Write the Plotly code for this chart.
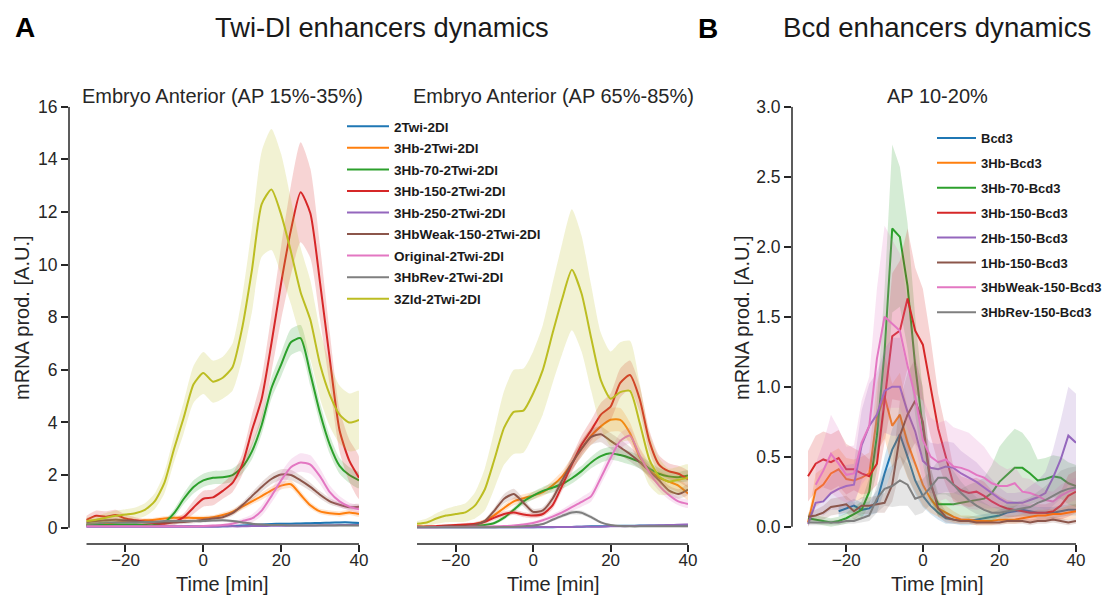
import plotly.graph_objects as go

FONT = "Liberation Sans, Arial, sans-serif"
INK = "#262626"

# ---------------- Panel A data (time grid, minutes) ----------------
t_A = [-30, -27.5, -25, -22.5, -20, -17.5, -15, -12.5, -10, -7.5, -5, -2.5, 0,
       2.5, 5, 7.5, 10, 12.5, 15, 17.5, 20, 22.5, 25, 27.5, 30, 32.5, 35, 37.5, 40]

names_A = ["2Twi-2Dl", "3Hb-2Twi-2Dl", "3Hb-70-2Twi-2Dl", "3Hb-150-2Twi-2Dl",
           "3Hb-250-2Twi-2Dl", "3HbWeak-150-2Twi-2Dl", "Original-2Twi-2Dl",
           "3HbRev-2Twi-2Dl", "3Zld-2Twi-2Dl"]

# Embryo Anterior (AP 15%-35%) : means
a1_2twi = [0.05, 0.05, 0.05, 0.05, 0.05, 0.05, 0.05, 0.05, 0.05, 0.05, 0.05, 0.05, 0.05, 0.05, 0.05,
           0.06, 0.08, 0.1, 0.12, 0.14, 0.15, 0.15, 0.16, 0.17, 0.18, 0.19, 0.2, 0.2, 0.18]
a1_3hb = [0.1, 0.12, 0.15, 0.2, 0.22, 0.25, 0.28, 0.3, 0.35, 0.38, 0.38, 0.37, 0.37, 0.4, 0.48,
          0.6, 0.8, 1.0, 1.2, 1.42, 1.6, 1.65, 1.25, 0.85, 0.62, 0.55, 0.52, 0.58, 0.52]
a1_3hb70 = [0.1, 0.1, 0.1, 0.12, 0.12, 0.12, 0.1, 0.1, 0.2, 0.55, 1.1, 1.55, 1.8, 1.9, 1.92,
            2.0, 2.3, 2.9, 3.9, 5.3, 6.2, 7.05, 7.2, 5.85, 4.35, 3.15, 2.35, 2.0, 1.8]
a1_3hb150 = [0.3, 0.45, 0.42, 0.48, 0.35, 0.28, 0.22, 0.18, 0.15, 0.22, 0.4, 0.77, 1.1, 1.15, 1.4,
             1.7, 2.4, 3.7, 4.9, 7.0, 9.3, 11.3, 12.75, 11.95, 9.3, 6.4, 3.7, 2.55, 1.9]
a1_3hb250 = [0.04, 0.04, 0.04, 0.04, 0.04, 0.04, 0.04, 0.04, 0.04, 0.04, 0.04, 0.04, 0.04, 0.04, 0.05,
             0.05, 0.05, 0.06, 0.06, 0.07, 0.07, 0.08, 0.08, 0.08, 0.09, 0.09, 0.1, 0.1, 0.1]
a1_weak = [0.2, 0.25, 0.28, 0.3, 0.28, 0.25, 0.2, 0.2, 0.2, 0.2, 0.22, 0.25, 0.3, 0.35, 0.4,
           0.55, 0.85, 1.2, 1.55, 1.85, 2.02, 2.0, 1.8, 1.55, 1.25, 1.0, 0.87, 0.78, 0.8]
a1_orig = [0.05, 0.05, 0.05, 0.05, 0.05, 0.05, 0.05, 0.05, 0.05, 0.05, 0.05, 0.05, 0.06, 0.08, 0.1,
           0.15, 0.25, 0.35, 0.65, 1.2, 1.8, 2.3, 2.48, 2.4, 1.95, 1.35, 1.0, 0.8, 0.7]
a1_rev = [0.15, 0.17, 0.2, 0.2, 0.2, 0.2, 0.22, 0.22, 0.25, 0.25, 0.25, 0.25, 0.25, 0.27, 0.28,
          0.25, 0.2, 0.15, 0.12, 0.1, 0.1, 0.08, 0.08, 0.08, 0.08, 0.08, 0.08, 0.08, 0.08]
a1_zld = [0.25, 0.3, 0.38, 0.45, 0.5, 0.55, 0.68, 1.0, 1.7, 3.0, 4.2, 5.45, 5.88, 5.55, 5.7,
          6.1, 7.6, 9.8, 12.3, 12.85, 11.9, 10.5, 8.95, 7.9, 6.2, 5.05, 4.3, 4.0, 4.1]

# Embryo Anterior (AP 15%-35%) : band half-widths
a1_2twi_e = [0.03, 0.03, 0.03, 0.03, 0.03, 0.03, 0.03, 0.03, 0.03, 0.03, 0.03, 0.03, 0.03, 0.03, 0.03,
             0.03, 0.03, 0.03, 0.03, 0.03, 0.04, 0.04, 0.04, 0.04, 0.04, 0.04, 0.04, 0.04, 0.04]
a1_3hb_e = [0.08, 0.08, 0.08, 0.08, 0.08, 0.08, 0.08, 0.08, 0.08, 0.08, 0.08, 0.08, 0.08, 0.08, 0.1,
            0.1, 0.12, 0.12, 0.14, 0.15, 0.15, 0.15, 0.14, 0.12, 0.1, 0.1, 0.1, 0.1, 0.1]
a1_3hb70_e = [0.05, 0.05, 0.05, 0.05, 0.05, 0.05, 0.05, 0.05, 0.08, 0.15, 0.2, 0.25, 0.25, 0.25, 0.25,
              0.25, 0.25, 0.3, 0.35, 0.4, 0.45, 0.5, 0.5, 0.45, 0.4, 0.35, 0.3, 0.3, 0.3]
a1_3hb150_e = [0.15, 0.2, 0.2, 0.2, 0.15, 0.12, 0.1, 0.1, 0.1, 0.12, 0.15, 0.25, 0.3, 0.3, 0.3,
               0.35, 0.4, 0.6, 0.8, 1.1, 1.4, 1.7, 1.9, 1.7, 1.4, 1.0, 0.8, 0.8, 0.8]
a1_3hb250_e = [0.02, 0.02, 0.02, 0.02, 0.02, 0.02, 0.02, 0.02, 0.02, 0.02, 0.02, 0.02, 0.02, 0.02, 0.02,
               0.02, 0.02, 0.02, 0.02, 0.02, 0.02, 0.02, 0.02, 0.02, 0.02, 0.02, 0.02, 0.02, 0.02]
a1_weak_e = [0.08, 0.08, 0.08, 0.08, 0.08, 0.08, 0.08, 0.08, 0.08, 0.08, 0.08, 0.08, 0.08, 0.08, 0.08,
             0.1, 0.12, 0.15, 0.18, 0.2, 0.2, 0.2, 0.18, 0.16, 0.14, 0.12, 0.1, 0.1, 0.1]
a1_orig_e = [0.03, 0.03, 0.03, 0.03, 0.03, 0.03, 0.03, 0.03, 0.03, 0.03, 0.03, 0.03, 0.03, 0.04, 0.05,
             0.08, 0.1, 0.15, 0.2, 0.25, 0.3, 0.3, 0.35, 0.35, 0.3, 0.25, 0.2, 0.15, 0.15]
a1_rev_e = [0.05, 0.05, 0.05, 0.05, 0.05, 0.05, 0.05, 0.05, 0.05, 0.05, 0.05, 0.05, 0.05, 0.05, 0.05,
            0.05, 0.05, 0.05, 0.04, 0.04, 0.04, 0.03, 0.03, 0.03, 0.03, 0.03, 0.03, 0.03, 0.03]
a1_zld_e = [0.15, 0.15, 0.18, 0.2, 0.2, 0.22, 0.25, 0.3, 0.4, 0.5, 0.6, 0.7, 0.8, 0.8, 0.8,
            0.9, 1.2, 1.6, 2.0, 2.3, 2.3, 2.0, 1.7, 1.5, 1.3, 1.2, 1.1, 1.1, 1.1]

# Embryo Anterior (AP 65%-85%) : means
a2_2twi = [0.02, 0.02, 0.02, 0.02, 0.02, 0.02, 0.02, 0.02, 0.02, 0.02, 0.02, 0.02, 0.02, 0.02, 0.02,
           0.03, 0.03, 0.04, 0.05, 0.05, 0.06, 0.07, 0.07, 0.08, 0.08, 0.08, 0.09, 0.1, 0.1]
a2_3hb = [0.03, 0.03, 0.03, 0.04, 0.05, 0.07, 0.13, 0.25, 0.48, 0.75, 1.0, 1.12, 1.22, 1.35, 1.6,
          1.95, 2.45, 3.0, 3.5, 3.85, 4.1, 4.1, 3.6, 2.7, 2.2, 1.9, 1.75, 1.6, 1.3]
a2_3hb70 = [0.03, 0.03, 0.03, 0.03, 0.04, 0.05, 0.06, 0.1, 0.18, 0.38, 0.68, 1.0, 1.22, 1.4, 1.52,
            1.66, 1.88, 2.15, 2.48, 2.72, 2.83, 2.76, 2.65, 2.5, 2.25, 2.05, 1.95, 1.92, 1.98]
a2_3hb150 = [0.05, 0.05, 0.06, 0.08, 0.1, 0.12, 0.15, 0.22, 0.38, 0.52, 0.58, 0.5, 0.46, 0.52, 0.85,
             1.6, 2.4, 3.15, 3.7, 4.3, 4.6, 5.5, 5.8, 4.9, 3.3, 2.4, 2.15, 2.05, 1.85]
a2_3hb250 = [0.02, 0.02, 0.02, 0.02, 0.02, 0.02, 0.02, 0.02, 0.02, 0.02, 0.02, 0.02, 0.02, 0.03, 0.03,
             0.03, 0.03, 0.04, 0.04, 0.04, 0.05, 0.05, 0.06, 0.07, 0.08, 0.09, 0.1, 0.11, 0.12]
a2_weak = [0.03, 0.03, 0.03, 0.05, 0.05, 0.06, 0.1, 0.25, 0.65, 1.1, 1.28, 0.95, 0.6, 0.66, 1.1,
           1.8, 2.45, 3.0, 3.45, 3.55, 3.3, 3.05, 2.8, 2.5, 2.15, 1.8, 1.42, 1.28, 1.45]
a2_orig = [0.02, 0.02, 0.02, 0.03, 0.03, 0.03, 0.04, 0.04, 0.05, 0.06, 0.08, 0.12, 0.18, 0.28, 0.42,
           0.58, 0.78, 0.98, 1.2, 1.9, 2.65, 3.3, 3.5, 2.75, 2.1, 1.6, 1.25, 1.0, 0.9]
a2_rev = [0.02, 0.02, 0.02, 0.02, 0.02, 0.02, 0.02, 0.02, 0.02, 0.03, 0.03, 0.05, 0.08, 0.14, 0.3,
          0.45, 0.58, 0.57, 0.4, 0.2, 0.1, 0.06, 0.05, 0.05, 0.05, 0.05, 0.05, 0.05, 0.05]
a2_zld = [0.15, 0.2, 0.35, 0.46, 0.52, 0.58, 0.85, 1.45, 2.6, 3.8, 4.4, 4.45, 5.1, 6.0, 7.38,
          8.7, 9.8, 8.9, 7.2, 5.6, 4.9, 5.15, 5.2, 4.0, 2.6, 1.95, 1.75, 1.82, 1.9]

# Embryo Anterior (AP 65%-85%) : band half-widths
a2_2twi_e = [0.02, 0.02, 0.02, 0.02, 0.02, 0.02, 0.02, 0.02, 0.02, 0.02, 0.02, 0.02, 0.02, 0.02, 0.02,
             0.02, 0.02, 0.02, 0.02, 0.02, 0.02, 0.02, 0.02, 0.02, 0.02, 0.02, 0.03, 0.03, 0.03]
a2_3hb_e = [0.02, 0.02, 0.02, 0.02, 0.03, 0.04, 0.06, 0.08, 0.1, 0.12, 0.15, 0.15, 0.15, 0.15, 0.18,
            0.2, 0.25, 0.3, 0.35, 0.4, 0.45, 0.45, 0.4, 0.35, 0.3, 0.25, 0.25, 0.25, 0.25]
a2_3hb70_e = [0.02, 0.02, 0.02, 0.02, 0.02, 0.03, 0.03, 0.05, 0.06, 0.08, 0.1, 0.12, 0.15, 0.15, 0.18,
              0.18, 0.2, 0.2, 0.22, 0.25, 0.25, 0.25, 0.25, 0.25, 0.25, 0.22, 0.2, 0.2, 0.2]
a2_3hb150_e = [0.03, 0.03, 0.03, 0.04, 0.05, 0.06, 0.07, 0.08, 0.1, 0.1, 0.1, 0.1, 0.1, 0.1, 0.15,
               0.2, 0.3, 0.35, 0.4, 0.45, 0.5, 0.55, 0.55, 0.5, 0.4, 0.35, 0.3, 0.3, 0.3]
a2_3hb250_e = [0.02, 0.02, 0.02, 0.02, 0.02, 0.02, 0.02, 0.02, 0.02, 0.02, 0.02, 0.02, 0.02, 0.02, 0.02,
               0.02, 0.02, 0.02, 0.02, 0.02, 0.02, 0.02, 0.02, 0.03, 0.03, 0.03, 0.03, 0.04, 0.04]
a2_weak_e = [0.02, 0.02, 0.02, 0.03, 0.03, 0.04, 0.05, 0.08, 0.12, 0.18, 0.2, 0.15, 0.12, 0.12, 0.15,
             0.2, 0.25, 0.3, 0.3, 0.3, 0.3, 0.3, 0.28, 0.25, 0.22, 0.2, 0.18, 0.18, 0.2]
a2_orig_e = [0.02, 0.02, 0.02, 0.02, 0.02, 0.02, 0.02, 0.02, 0.02, 0.03, 0.04, 0.05, 0.06, 0.08, 0.1,
             0.12, 0.15, 0.18, 0.2, 0.25, 0.3, 0.3, 0.3, 0.28, 0.25, 0.2, 0.18, 0.15, 0.15]
a2_rev_e = [0.02, 0.02, 0.02, 0.02, 0.02, 0.02, 0.02, 0.02, 0.02, 0.02, 0.02, 0.03, 0.04, 0.05, 0.06,
            0.07, 0.08, 0.08, 0.07, 0.05, 0.04, 0.03, 0.03, 0.03, 0.03, 0.03, 0.03, 0.03, 0.03]
a2_zld_e = [0.1, 0.15, 0.2, 0.25, 0.3, 0.35, 0.5, 0.8, 1.1, 1.4, 1.6, 1.6, 1.6, 1.7, 1.9,
            2.1, 2.3, 2.2, 2.0, 1.8, 1.8, 1.9, 1.9, 1.5, 1.0, 0.7, 0.5, 0.5, 0.5]

# ---------------- Panel B data ----------------
t_B = [-30, -28, -26, -24, -22, -20, -18, -16, -14, -12, -10, -8, -6, -4, -2, 0, 2, 4,
       6, 8, 10, 12, 14, 16, 18, 20, 22, 24, 26, 28, 30, 32, 34, 36, 38, 40]

names_B = ["Bcd3", "3Hb-Bcd3", "3Hb-70-Bcd3", "3Hb-150-Bcd3", "2Hb-150-Bcd3",
           "1Hb-150-Bcd3", "3HbWeak-150-Bcd3", "3HbRev-150-Bcd3"]

b_bcd3 = [None, None, None, None, 0.11, 0.13, 0.15, 0.12, 0.13, 0.18, 0.38, 0.55, 0.66, 0.5, 0.33, 0.22,
          0.15, 0.1, 0.06, 0.05, 0.04, 0.04, 0.05, 0.06, 0.07, 0.08, 0.1, 0.11, 0.12, 0.11, 0.1, 0.1,
          0.1, 0.11, 0.12, 0.12]
b_3hb = [0.03, 0.26, 0.3, 0.38, 0.41, 0.34, 0.33, 0.35, 0.38, 0.78, 0.93, 0.72, 0.8, 0.6, 0.45, 0.3,
         0.2, 0.13, 0.1, 0.07, 0.05, 0.05, 0.04, 0.04, 0.04, 0.05, 0.05, 0.05, 0.06, 0.07, 0.08, 0.08,
         0.09, 0.09, 0.1, 0.11]
b_3hb70 = [0.06, 0.05, 0.04, 0.03, 0.04, 0.06, 0.09, 0.12, 0.25, 0.65, 1.25, 2.13, 2.07, 1.72, 1.15, 0.7,
           0.3, 0.16, 0.16, 0.16, 0.17, 0.18, 0.19, 0.2, 0.24, 0.32, 0.37, 0.42, 0.42, 0.38, 0.33, 0.34,
           0.36, 0.35, 0.31, 0.29]
b_3hb150 = [0.36, 0.45, 0.48, 0.46, 0.49, 0.41, 0.41, 0.38, 0.36, 0.45, 0.9, 1.36, 1.4, 1.63, 1.4, 1.3,
            1.0, 0.7, 0.5, 0.3, 0.26, 0.24, 0.25, 0.22, 0.18, 0.15, 0.13, 0.12, 0.11, 0.1, 0.1, 0.1,
            0.11, 0.15, 0.22, 0.25]
b_2hb150 = [0.02, 0.17, 0.18, 0.24, 0.27, 0.29, 0.3, 0.58, 0.72, 0.8, 0.97, 1.0, 1.0, 0.82, 0.68, 0.47,
            0.42, 0.41, 0.43, 0.42, 0.38, 0.35, 0.32, 0.28, 0.24, 0.2, 0.17, 0.17, 0.17, 0.19, 0.21, 0.24,
            0.35, 0.48, 0.65, 0.6]
b_1hb150 = [0.07, 0.08, 0.1, 0.14, 0.15, 0.16, 0.11, 0.15, 0.15, 0.16, 0.17, 0.3, 0.65, 0.8, 0.9, 0.75,
            0.32, 0.13, 0.07, 0.05, 0.04, 0.04, 0.03, 0.03, 0.03, 0.03, 0.04, 0.04, 0.04, 0.03, 0.04, 0.04,
            0.05, 0.04, 0.03, 0.04]
b_weak = [None, 0.3, 0.4, 0.52, 0.45, 0.37, 0.38, 0.6, 0.72, 1.2, 1.5, 1.45, 1.4, 1.15, 0.93, 0.62,
          0.5, 0.46, 0.48, 0.43, 0.42, 0.4, 0.37, 0.35, 0.31, 0.29, 0.29, 0.31, 0.25, 0.24, 0.22, 0.19,
          0.18, 0.22, 0.25, 0.27]
b_rev = [0.03, 0.03, 0.03, 0.03, 0.03, 0.04, 0.04, 0.06, 0.08, 0.2, 0.27, 0.29, 0.33, 0.3, 0.2, 0.22,
         0.28, 0.35, 0.35, 0.3, 0.24, 0.19, 0.15, 0.12, 0.1, 0.1, 0.11, 0.12, 0.13, 0.14, 0.17, 0.19,
         0.22, 0.25, 0.27, 0.28]

b_bcd3_e = [None, None, None, None, 0.04, 0.04, 0.05, 0.05, 0.05, 0.08, 0.12, 0.15, 0.15, 0.14, 0.1, 0.08,
            0.06, 0.05, 0.04, 0.03, 0.03, 0.03, 0.03, 0.03, 0.03, 0.04, 0.04, 0.04, 0.04, 0.04, 0.04, 0.04,
            0.04, 0.04, 0.04, 0.04]
b_3hb_e = [0.03, 0.12, 0.12, 0.15, 0.15, 0.15, 0.15, 0.15, 0.15, 0.25, 0.3, 0.3, 0.3, 0.25, 0.2, 0.15,
           0.1, 0.06, 0.05, 0.04, 0.03, 0.03, 0.03, 0.03, 0.03, 0.03, 0.03, 0.03, 0.03, 0.04, 0.04, 0.04,
           0.04, 0.04, 0.05, 0.05]
b_3hb70_e = [0.03, 0.03, 0.03, 0.03, 0.03, 0.04, 0.05, 0.06, 0.1, 0.25, 0.45, 0.6, 0.5, 0.45, 0.35, 0.25,
             0.12, 0.08, 0.08, 0.08, 0.1, 0.12, 0.13, 0.15, 0.2, 0.25, 0.27, 0.28, 0.25, 0.22, 0.15, 0.15,
             0.15, 0.15, 0.15, 0.15]
b_3hb150_e = [0.18, 0.2, 0.2, 0.2, 0.2, 0.18, 0.15, 0.15, 0.12, 0.15, 0.3, 0.45, 0.5, 0.5, 0.45, 0.4,
              0.35, 0.25, 0.2, 0.12, 0.1, 0.1, 0.1, 0.1, 0.08, 0.07, 0.06, 0.06, 0.06, 0.06, 0.06, 0.06,
              0.07, 0.1, 0.15, 0.15]
b_2hb150_e = [0.02, 0.08, 0.1, 0.12, 0.15, 0.15, 0.15, 0.25, 0.3, 0.3, 0.3, 0.35, 0.35, 0.3, 0.25, 0.2,
              0.18, 0.18, 0.18, 0.18, 0.16, 0.15, 0.14, 0.12, 0.1, 0.08, 0.07, 0.07, 0.08, 0.1, 0.12, 0.15,
              0.2, 0.28, 0.35, 0.35]
b_1hb150_e = [0.03, 0.04, 0.05, 0.06, 0.06, 0.06, 0.06, 0.06, 0.06, 0.06, 0.07, 0.12, 0.25, 0.3, 0.3, 0.25,
              0.12, 0.06, 0.04, 0.03, 0.02, 0.02, 0.02, 0.02, 0.02, 0.02, 0.02, 0.02, 0.02, 0.02, 0.02, 0.02,
              0.02, 0.02, 0.02, 0.02]
b_weak_e = [None, 0.15, 0.2, 0.28, 0.25, 0.2, 0.2, 0.3, 0.35, 0.5, 0.65, 0.6, 0.55, 0.45, 0.35, 0.3,
            0.28, 0.28, 0.28, 0.28, 0.27, 0.27, 0.25, 0.22, 0.18, 0.15, 0.12, 0.12, 0.1, 0.1, 0.08, 0.07,
            0.07, 0.08, 0.08, 0.08]
b_rev_e = [0.02, 0.02, 0.02, 0.02, 0.02, 0.02, 0.02, 0.03, 0.04, 0.1, 0.12, 0.15, 0.18, 0.15, 0.12, 0.12,
           0.12, 0.12, 0.12, 0.1, 0.08, 0.07, 0.06, 0.05, 0.04, 0.04, 0.05, 0.05, 0.06, 0.07, 0.08, 0.1,
           0.12, 0.15, 0.15, 0.15]

# ---------------- styling ----------------
TAB10 = ["#1f77b4", "#ff7f0e", "#2ca02c", "#d62728", "#9467bd",
         "#8c564b", "#e377c2", "#7f7f7f", "#bcbd22"]
colors_B = ["#1f77b4", "#ff7f0e", "#2ca02c", "#d62728", "#9467bd",
            "#8c564b", "#e377c2", "#7f7f7f"]


def rgba(hexc, a):
    h = hexc.lstrip("#")
    return "rgba(%d,%d,%d,%.2f)" % (int(h[0:2], 16), int(h[2:4], 16), int(h[4:6], 16), a)


fig = go.Figure()


def add_series(t, mean, err, color, name, xa, ya, legend, group, showlegend, shape):
    pts = [(ti, m, e) for ti, m, e in zip(t, mean, err) if m is not None]
    ts = [p[0] for p in pts]
    ms = [p[1] for p in pts]
    lo = [max(p[1] - p[2], 0.0) for p in pts]
    hi = [p[1] + p[2] for p in pts]
    fig.add_trace(go.Scatter(
        x=ts + ts[::-1], y=hi + lo[::-1], fill="toself", fillcolor=rgba(color, 0.2),
        mode="lines", line=dict(width=0, shape=shape, smoothing=0.6), hoverinfo="skip",
        showlegend=False, legendgroup=group, legend=legend, xaxis=xa, yaxis=ya))
    fig.add_trace(go.Scatter(
        x=ts, y=ms, mode="lines", name=name,
        line=dict(color=color, width=2, shape=shape, smoothing=0.6),
        showlegend=showlegend, legendgroup=group, legend=legend, xaxis=xa, yaxis=ya))


A1 = [(a1_2twi, a1_2twi_e), (a1_3hb, a1_3hb_e), (a1_3hb70, a1_3hb70_e), (a1_3hb150, a1_3hb150_e),
      (a1_3hb250, a1_3hb250_e), (a1_weak, a1_weak_e), (a1_orig, a1_orig_e), (a1_rev, a1_rev_e),
      (a1_zld, a1_zld_e)]
A2 = [(a2_2twi, a2_2twi_e), (a2_3hb, a2_3hb_e), (a2_3hb70, a2_3hb70_e), (a2_3hb150, a2_3hb150_e),
      (a2_3hb250, a2_3hb250_e), (a2_weak, a2_weak_e), (a2_orig, a2_orig_e), (a2_rev, a2_rev_e),
      (a2_zld, a2_zld_e)]
B = [(b_bcd3, b_bcd3_e), (b_3hb, b_3hb_e), (b_3hb70, b_3hb70_e), (b_3hb150, b_3hb150_e),
     (b_2hb150, b_2hb150_e), (b_1hb150, b_1hb150_e), (b_weak, b_weak_e), (b_rev, b_rev_e)]

for i, (m, e) in enumerate(A1):
    add_series(t_A, m, e, TAB10[i], names_A[i], "x", "y", "legend", "A%d" % i, True, "spline")
for i, (m, e) in enumerate(A2):
    add_series(t_A, m, e, TAB10[i], names_A[i], "x2", "y2", "legend", "A%d" % i, False, "spline")
for i, (m, e) in enumerate(B):
    add_series(t_B, m, e, colors_B[i], names_B[i], "x3", "y3", "legend2", "B%d" % i, True, "linear")

W, H = 1113, 599
Y_DOM = [1 - 544 / H, 1 - 106.7 / H]

base_ax = dict(ticks="outside", tickwidth=1.5, tickcolor=INK, showgrid=False,
               zeroline=False, showline=False, automargin=False)
x_common = dict(ticklen=7, ticklabelstandoff=-6,
                tickfont=dict(family=FONT, size=17, color=INK), **base_ax)
y_common = dict(ticklen=7, tickfont=dict(family=FONT, size=17.5, color=INK), **base_ax)

fig.update_layout(
    width=W, height=H, margin=dict(l=0, r=0, t=0, b=0),
    paper_bgcolor="white", plot_bgcolor="white",
    font=dict(family=FONT, color=INK),
    xaxis=dict(domain=[69 / W, 359 / W], range=[-34.5, 40], tickvals=[-20, 0, 20, 40],
               anchor="y", **x_common),
    yaxis=dict(domain=Y_DOM, range=[-0.62, 16], tickvals=[0, 2, 4, 6, 8, 10, 12, 14, 16],
               anchor="x", **y_common),
    xaxis2=dict(domain=[399.6 / W, 688 / W], range=[-34.5, 40], tickvals=[-20, 0, 20, 40],
                anchor="y2", **x_common),
    yaxis2=dict(domain=Y_DOM, range=[-0.62, 16], showticklabels=False, ticks="",
                showgrid=False, zeroline=False, showline=False, anchor="x2"),
    xaxis3=dict(domain=[792 / W, 1076 / W], range=[-34.18, 40], tickvals=[-20, 0, 20, 40],
                anchor="y3", **x_common),
    yaxis3=dict(domain=Y_DOM, range=[-0.124, 3.0], tickvals=[0, 0.5, 1.0, 1.5, 2.0, 2.5, 3.0],
                tickformat=".1f", anchor="x3", **y_common),
    legend=dict(x=342 / W, y=1 - 111 / H, xanchor="left", yanchor="top", bgcolor="rgba(0,0,0,0)",
                font=dict(family=FONT, size=13.5, color="#1a1a1a", weight="bold"),
                tracegroupgap=1, itemwidth=42, itemclick=False, itemdoubleclick=False),
    legend2=dict(x=932 / W, y=1 - 123 / H, xanchor="left", yanchor="top", bgcolor="rgba(0,0,0,0)",
                 font=dict(family=FONT, size=13, color="#1a1a1a", weight="bold"),
                 tracegroupgap=5, itemwidth=39, itemclick=False, itemdoubleclick=False),
    showlegend=True,
)

# offset spines (seaborn-style, trimmed)
spine = dict(color=INK, width=1.5)
for xa, ya, ytop in (("x", "y", 16), ("x3", "y3", 3.0)):
    fig.add_shape(type="line", xref=xa + " domain", yref=ya, x0=0, x1=0, y0=0, y1=ytop,
                  line=spine, layer="above")
for xa, ya in (("x", "y"), ("x2", "y2"), ("x3", "y3")):
    fig.add_shape(type="line", xref=xa, yref=ya + " domain", x0=-30, x1=40, y0=0, y1=0,
                  line=spine, layer="above")


def ann(text, x, y, size, bold=False, angle=0, color="#1a1a1a"):
    fig.add_annotation(text=text, x=x / W, y=1 - y / H, xref="paper", yref="paper",
                       showarrow=False, xanchor="center", yanchor="middle", textangle=angle,
                       font=dict(family=FONT, size=size, color=color,
                                 weight="bold" if bold else "normal"))


ann("A", 25, 27, 28, bold=True, color="black")
ann("B", 708, 28, 28, bold=True, color="black")
ann("Twi-Dl enhancers dynamics", 382, 27, 27.3)
ann("Bcd enhancers dynamics", 937, 27, 27.6)
ann("Embryo Anterior (AP 15%-35%)", 222.5, 96, 20, color=INK)
ann("Embryo Anterior (AP 65%-85%)", 553, 96, 20, color=INK)
ann("AP 10-20%", 937, 96, 20, color=INK)
ann("Time [min]", 222.5, 584, 20, color=INK)
ann("Time [min]", 553, 584, 20, color=INK)
ann("Time [min]", 937, 584, 20, color=INK)
ann("mRNA prod. [A.U.]", 22, 318, 20, angle=-90, color=INK)
ann("mRNA prod. [A.U.]", 742, 318, 20, angle=-90, color=INK)

fig.write_html("out.html")
